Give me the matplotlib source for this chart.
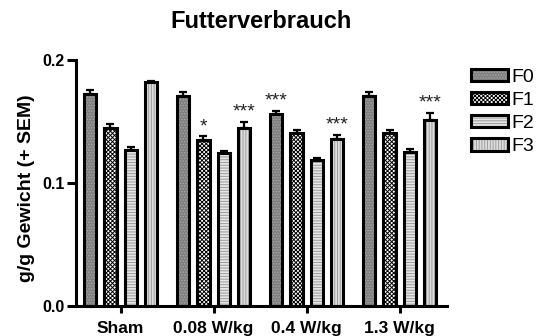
import matplotlib
matplotlib.use("Agg")
import matplotlib.pyplot as plt
import numpy as np
from matplotlib.legend_handler import HandlerTuple

plt.rcParams["font.family"] = ["Liberation Sans", "DejaVu Sans"]
plt.rcParams["hatch.linewidth"] = 0.7

groups = ["Sham", "0.08 W/kg", "0.4 W/kg", "1.3 W/kg"]
series = ["F0", "F1", "F2", "F3"]

# food intake per body weight (g/g), one list per generation across the groups
f0 = [0.1725, 0.171, 0.156, 0.171]
f1 = [0.145, 0.135, 0.1405, 0.1405]
f2 = [0.127, 0.124, 0.119, 0.1255]
f3 = [0.182, 0.145, 0.136, 0.1515]

f0_sem = [0.0031, 0.0029, 0.0029, 0.0026]
f1_sem = [0.0031, 0.0029, 0.0026, 0.0026]
f2_sem = [0.0025, 0.0017, 0.0015, 0.0023]
f3_sem = [0.0012, 0.0045, 0.0029, 0.0058]

# (group index, series index, label)
stars = [(1, 1, "*"), (1, 3, "***"), (2, 0, "***"), (2, 3, "***"), (3, 3, "***")]

values = [f0, f1, f2, f3]
sems = [f0_sem, f1_sem, f2_sem, f3_sem]

# fill colour, hatch colour, hatch pattern per generation
styles = [
    ("#7f7f7f", "#a8a8a8", "......"),
    ("#ffffff", "#000000", "xxxxxxxx"),
    ("#e6e6e6", "#9a9a9a", "------"),
    ("#dedede", "#9c9c9c", "||||||"),
]

fig = plt.figure(figsize=(5.43, 3.36), dpi=100)
ax = fig.add_axes([75.5 / 543, 30 / 336, 371.5 / 543, 246 / 336])

x = np.arange(len(groups))
width = 0.13
offsets = [-0.324, -0.108, 0.108, 0.324]

handles = []
for vals, err, off, (fc, hc, hatch) in zip(values, sems, offsets, styles):
    pos = x + off
    fill = ax.bar(pos, vals, width, color=fc, edgecolor=hc, hatch=hatch,
                  linewidth=0, zorder=2)
    edge = ax.bar(pos, vals, width, fill=False, edgecolor="black",
                  linewidth=2.2, zorder=2.1)
    ax.errorbar(pos, vals, yerr=[np.zeros(len(vals)), err], fmt="none",
                ecolor="black", elinewidth=1.6, capsize=3, capthick=1.6,
                zorder=3)
    handles.append((fill, edge))

for g, s, label in stars:
    top = values[s][g] + sems[s][g]
    ax.annotate(label, (x[g] + offsets[s], top), xytext=(0, 1),
                textcoords="offset points", ha="center", va="bottom",
                fontsize=14, color="#222222")

ax.set_xlim(-0.484, 3.51)
ax.set_ylim(0, 0.2)
ax.set_yticks([0.0, 0.1, 0.2])
ax.set_yticklabels(["0.0", "0.1", "0.2"], fontsize=11.5, fontweight="bold")
ax.set_xticks(x)
ax.set_xticklabels(groups, fontsize=12.5, fontweight="bold")

for side in ["top", "right"]:
    ax.spines[side].set_visible(False)
for side in ["left", "bottom"]:
    ax.spines[side].set_linewidth(2.2)
ax.tick_params(axis="y", direction="out", length=6.5, width=2.2, pad=1)
ax.tick_params(axis="x", direction="out", length=5, width=2.2, pad=5.5)

ax.set_title("Futterverbrauch", fontsize=17, fontweight="bold", pad=23)
ax.set_ylabel("g/g Gewicht (+ SEM)", fontsize=14, fontweight="bold")
ax.yaxis.set_label_coords(-0.109, 0.48)

ax.legend(handles, series, handler_map={tuple: HandlerTuple(ndivide=1, pad=0)},
          loc="upper left", bbox_to_anchor=(471 / 543, 1 - 69 / 336),
          bbox_transform=fig.transFigure, frameon=False, fontsize=14,
          handlelength=1.9, handleheight=0.6, handletextpad=0.2,
          labelspacing=0.31, borderpad=0, borderaxespad=0)

fig.savefig("out.png", dpi=100)
